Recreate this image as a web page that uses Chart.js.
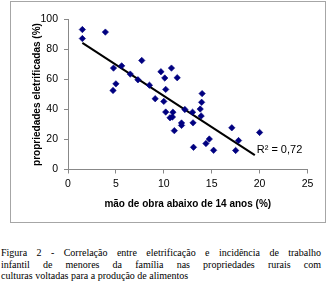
<!DOCTYPE html>
<html>
<head>
<meta charset="utf-8">
<script src="https://cdn.jsdelivr.net/npm/chart.js@4/dist/chart.umd.min.js"></script>
<style>
  html, body { margin: 0; padding: 0; background: #fff; }
  #wrap { position: relative; width: 335px; height: 291px; overflow: hidden; }
  #frame { position: absolute; left: 10px; top: 1px; width: 316px; height: 222px; box-sizing: border-box; border: 1px solid #a6a6a6; }
  #cv { position: absolute; left: 0; top: 0; }
  #caption { position: absolute; left: 1px; top: 247px; width: 320px; font-family: "Liberation Serif", "Times New Roman", serif; font-size: 10px; line-height: 11.6px; color: #000; }
  .j { text-align: justify; text-align-last: justify; }
</style>
</head>
<body>
<div id="wrap">
  <div id="frame"></div>
  <canvas id="cv" width="335" height="232"></canvas>
  <div id="caption">
    <div class="j">Figura 2 - Correlação entre eletrificação e incidência de trabalho</div>
    <div class="j">infantil de menores da família nas propriedades rurais com</div>
    <div>culturas voltadas para a produção de alimentos</div>
  </div>
</div>
<script>
// Data
const childLabour = [1.5, 1.5, 3.9, 4.75, 4.7, 5.0, 5.6, 6.5, 7.3, 7.7, 8.5, 9.1, 9.7, 10.0, 10.1, 10.2, 10.2, 10.8, 10.65, 10.95, 10.9, 11.1, 11.4, 11.85, 11.85, 12.2, 13.0, 13.05, 13.1, 13.8, 13.9, 13.95, 14.0, 14.4, 14.75, 15.2, 17.1, 17.5, 17.8, 20.0];
const electrified = [93.3, 87.3, 91.6, 67.6, 52.7, 57.1, 69.1, 63.6, 59.8, 72.7, 56.2, 47.2, 65.2, 45.4, 61.0, 53.4, 38.3, 67.6, 34.5, 38.2, 35.0, 25.9, 61.2, 31.0, 29.4, 40.0, 38.2, 31.1, 14.8, 40.3, 35.7, 44.8, 50.6, 17.3, 20.3, 12.8, 27.8, 12.7, 19.3, 24.7];
const trendX = [1.5, 19.5];
const trendY = [84.4, 9.6];
const r2Text = "R\u00B2 = 0,72";
const r2At = [19.7, 13];
const xTitle = "mão de obra abaixo de 14 anos (%)";
const yTitle = "propriedades eletrificadas (%)";

const points = childLabour.map((x, i) => ({ x: x, y: electrified[i] }));
const trend = trendX.map((x, i) => ({ x: x, y: trendY[i] }));

const r2Plugin = {
  id: 'r2',
  afterDatasetsDraw(chart) {
    const ctx = chart.ctx;
    const xs = chart.scales.x, ys = chart.scales.y;
    ctx.save();
    ctx.font = '11px "Liberation Sans", Arial, sans-serif';
    ctx.fillStyle = '#000';
    ctx.textAlign = 'left';
    ctx.textBaseline = 'middle';
    ctx.fillText(r2Text, xs.getPixelForValue(r2At[0]), ys.getPixelForValue(r2At[1]));
    ctx.restore();
  }
};

const tickFont = { family: '"Liberation Sans", Arial, sans-serif', size: 10.5 };
const titleFont = { family: '"Liberation Sans", Arial, sans-serif', size: 10, weight: 'bold' };

new Chart(document.getElementById('cv'), {
  type: 'scatter',
  data: {
    datasets: [
      {
        data: trend,
        showLine: true,
        borderColor: '#000',
        borderWidth: 2,
        pointRadius: 0,
        fill: false,
        order: 2
      },
      {
        data: points,
        pointStyle: 'rectRot',
        pointRadius: 3.2,
        pointBorderWidth: 0.6,
        backgroundColor: '#000080',
        borderColor: '#000080',
        order: 1
      }
    ]
  },
  options: {
    responsive: false,
    animation: false,
    devicePixelRatio: 1,
    layout: { padding: { left: 19, right: 27.5, top: 19.5, bottom: 18 } },
    plugins: { legend: { display: false }, tooltip: { enabled: false } },
    scales: {
      x: {
        type: 'linear',
        min: 0, max: 25,
        ticks: { stepSize: 5, color: '#000', font: tickFont, padding: 4, maxRotation: 0 },
        grid: { drawOnChartArea: false, drawTicks: true, tickLength: 4, color: '#888' },
        border: { color: '#888', width: 1 },
        title: { display: true, text: xTitle, color: '#000', font: titleFont, padding: { top: 4, bottom: 4 } },
        afterFit(scale) { scale.height = 44.5; }
      },
      y: {
        type: 'linear',
        min: 0, max: 100,
        ticks: { stepSize: 10, color: '#000', font: tickFont, padding: 6 },
        grid: { drawOnChartArea: false, drawTicks: true, tickLength: 4, color: '#888' },
        border: { color: '#888', width: 1 },
        title: { display: true, text: yTitle, color: '#000', font: titleFont, padding: { top: 12, bottom: 4 } },
        afterFit(scale) { scale.width = 49; }
      }
    }
  },
  plugins: [r2Plugin]
});
</script>
</body>
</html>
